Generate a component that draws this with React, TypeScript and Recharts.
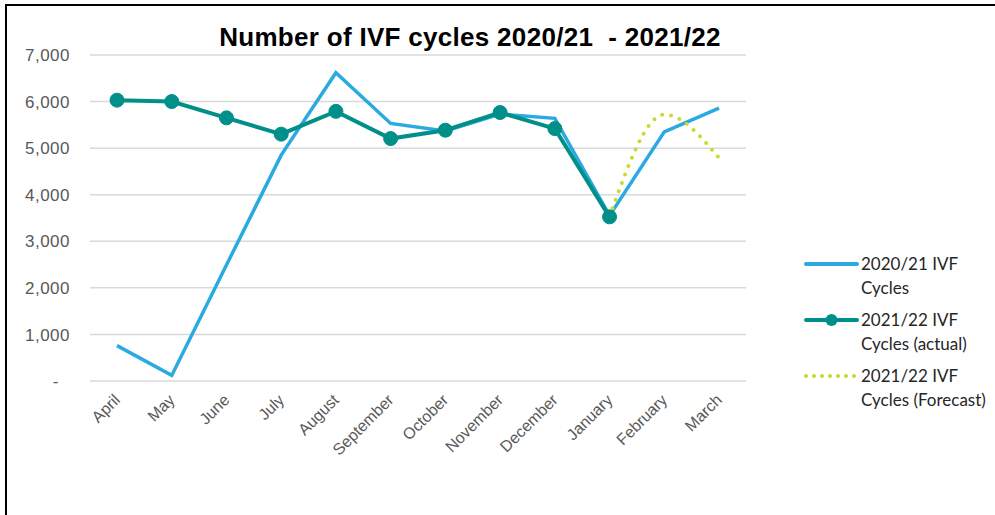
import React from 'react';
import { LineChart, Line, XAxis, YAxis, CartesianGrid, Legend } from 'recharts';

const months = [
  'April', 'May', 'June', 'July', 'August', 'September',
  'October', 'November', 'December', 'January', 'February', 'March',
];
const cycles2020 = [760, 120, 2490, 4850, 6620, 5530, 5370, 5730, 5640, 3550, 5350, 5860];
const cyclesActual = [6030, 6000, 5650, 5300, 5790, 5205, 5385, 5765, 5420, 3525, null, null];
const cyclesForecast = [null, null, null, null, null, null, null, null, null, 3525, 5720, 4790];
const yTicks = [0, 1000, 2000, 3000, 4000, 5000, 6000, 7000];

const seriesNames = ['2020/21 IVF Cycles', '2021/22 IVF Cycles (actual)', '2021/22 IVF Cycles (Forecast)'];

const BLUE = '#2AAAE1';
const TEAL = '#008F89';
const LIME = '#C8DB2C';

const data = months.map((m, i) => ({
  month: m,
  prev: cycles2020[i],
  actual: cyclesActual[i],
  forecast: cyclesForecast[i],
}));

const YTick = (props: any) => {
  const { x, y, payload } = props;
  const v = payload.value;
  return (
    <text
      x={v === 0 ? x - 11 : x}
      y={y}
      dy="0.36em"
      textAnchor="end"
      fill="#595959"
      fontSize={17}
      letterSpacing={0.5}
      fontFamily="'Liberation Sans', Arial, sans-serif"
    >
      {v === 0 ? '-' : v.toLocaleString('en-US')}
    </text>
  );
};

// month labels are turned 45 degrees, as in the Excel original
const XTick = (props: any) => {
  const { x, y, payload } = props;
  return (
    <g transform={`translate(${x + 4},${y + 14})`}>
      <text
        x={0}
        y={0}
        textAnchor="end"
        transform="rotate(-45)"
        fill="#595959"
        fontSize={16}
        fontFamily="'Liberation Sans', Arial, sans-serif"
      >
        {payload.value}
      </text>
    </g>
  );
};

const renderLegend = () => (
  <div style={{ fontFamily: 'Lato, sans-serif', fontSize: 17, color: '#262626' }}>
    {seriesNames.map((name, i) => (
      <div key={name} style={{ display: 'flex', alignItems: 'flex-start', height: 56 }}>
        <svg width={57} height={24} style={{ flex: 'none' }}>
          {i === 0 && <line x1={2} x2={53} y1={12} y2={12} stroke={BLUE} strokeWidth={4} strokeLinecap="round" />}
          {i === 1 && (
            <>
              <line x1={2} x2={53} y1={12} y2={12} stroke={TEAL} strokeWidth={4} strokeLinecap="round" />
              <circle cx={27.5} cy={12} r={6} fill={TEAL} />
            </>
          )}
          {i === 2 && (
            <line x1={2} x2={54} y1={12} y2={12} stroke={LIME} strokeWidth={4} strokeLinecap="round" strokeDasharray="0 8" />
          )}
        </svg>
        <div style={{ width: 136, lineHeight: '23.5px' }}>{name}</div>
      </div>
    ))}
  </div>
);

export default function App() {
  return (
    <div style={{ position: 'fixed', left: 0, top: 0, width: 995, height: 515, overflow: 'hidden', background: '#fff' }}>
      <div
        style={{
          position: 'absolute', left: 5, top: 4, width: 1010, height: 530,
          border: '2px solid #000', boxSizing: 'border-box',
        }}
      />
      <div
        style={{
          position: 'absolute', left: 0, top: 24, width: 940, textAlign: 'center',
          fontFamily: "'Liberation Sans', Arial, sans-serif", fontWeight: 'bold',
          fontSize: 26, lineHeight: '26px', letterSpacing: 0.3, whiteSpace: 'pre', color: '#000',
        }}
      >
        {'Number of IVF cycles 2020/21  - 2021/22'}
      </div>
      <div style={{ position: 'absolute', left: 0, top: 0 }}>
        <LineChart
          width={995}
          height={515}
          data={data}
          margin={{ top: 55, right: 249, bottom: 74, left: 10 }}
        >
          <CartesianGrid vertical={false} stroke="#D9D9D9" strokeWidth={1.5} />
          <XAxis
            dataKey="month"
            axisLine={false}
            tickLine={false}
            tickMargin={0}
            interval={0}
            height={60}
            padding={{ left: 27, right: 27 }}
            tick={<XTick />}
          />
          <YAxis
            width={80}
            domain={[0, 7000]}
            ticks={yTicks}
            axisLine={false}
            tickLine={false}
            tickMargin={14}
            tick={<YTick />}
          />
          <Legend
            layout="vertical"
            align="center"
            verticalAlign="middle"
            wrapperStyle={{ left: 804, top: 252, width: 195 }}
            content={renderLegend}
          />
          <Line
            name={seriesNames[0]}
            dataKey="prev"
            stroke={BLUE}
            strokeWidth={3.5}
            dot={false}
            isAnimationActive={false}
          />
          <Line
            name={seriesNames[1]}
            dataKey="actual"
            stroke={TEAL}
            strokeWidth={4}
            dot={{ r: 7, fill: TEAL, stroke: TEAL, strokeWidth: 1 }}
            isAnimationActive={false}
          />
          <Line
            name={seriesNames[2]}
            type="monotone"
            dataKey="forecast"
            stroke={LIME}
            strokeWidth={4}
            strokeLinecap="round"
            strokeDasharray="0 9"
            dot={false}
            isAnimationActive={false}
          />
        </LineChart>
      </div>
    </div>
  );
}
